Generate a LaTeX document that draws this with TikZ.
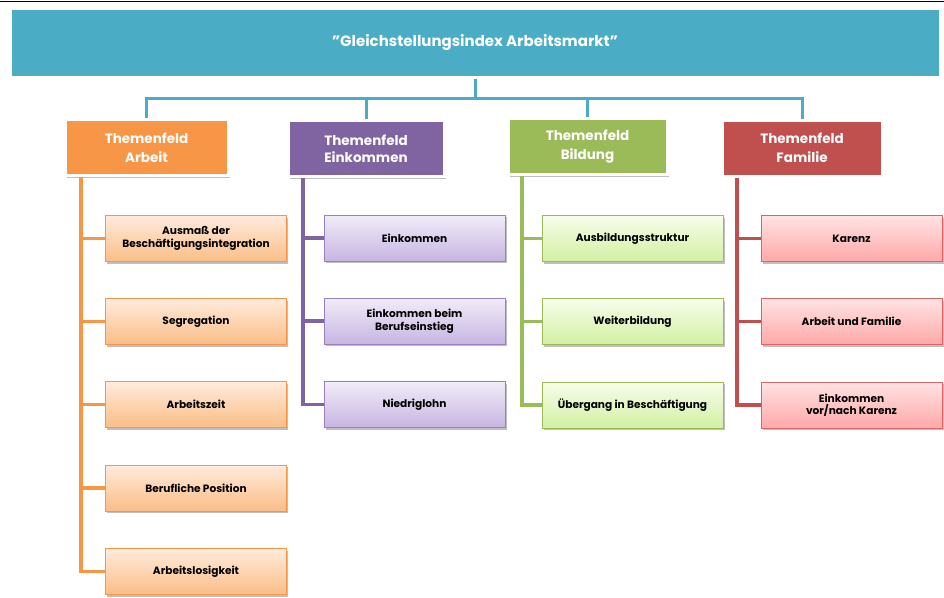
\documentclass[tikz,border=0pt]{standalone}
\usepackage{fontspec}
\setmainfont{Poppins}
\usetikzlibrary{shadows}
\definecolor{cteal}{HTML}{4BACC6}
\definecolor{corange}{HTML}{F79646}
\definecolor{cpurple}{HTML}{8064A2}
\definecolor{cgreen}{HTML}{9BBB59}
\definecolor{cred}{HTML}{C0504D}
\definecolor{oTop}{HTML}{FFEBDD}
\definecolor{oBot}{HTML}{FBBD86}
\definecolor{pTop}{HTML}{F1ECF8}
\definecolor{pBot}{HTML}{C7B5E2}
\definecolor{gTop}{HTML}{F7FDEB}
\definecolor{gBot}{HTML}{D2F0A2}
\definecolor{rTop}{HTML}{FFE3E3}
\definecolor{rBot}{HTML}{FFA8A8}
\definecolor{rEdge}{HTML}{D96666}
\definecolor{pEdge}{HTML}{9B7FC0}
\tikzset{
  shad/.style={drop shadow={shadow xshift=1.5pt,shadow yshift=-2pt,fill=black,opacity=0.25}},
  header/.style={fill=#1,draw=white,line width=3pt,shad,text=white,font=\bfseries\fontsize{13.5}{17}\selectfont,align=center,minimum width=163pt,minimum height=56pt,inner sep=0pt},
  subbox/.style n args={3}{draw=#1,line width=0.8pt,top color=#2,bottom color=#3,shad,font=\bfseries\fontsize{10.6}{12.5}\selectfont,align=center,minimum width=181pt,minimum height=46pt,inner sep=0pt,text=black},
  sorange/.style={subbox={corange}{oTop}{oBot}},
  spurple/.style={subbox={pEdge}{pTop}{pBot}},
  sgreen/.style={subbox={cgreen}{gTop}{gBot}},
  sred/.style={subbox={rEdge}{rTop}{rBot}},
  conn/.style={draw=#1,line width=3.5pt},
}
\begin{document}
\begin{tikzpicture}[x=1pt,y=-1pt]
\useasboundingbox (0,0) rectangle (944,597);
\fill[white] (0,0) rectangle (944,597);
\draw[black,line width=1.5pt] (0,1.5) -- (944,1.5);
% top box
\node[fill=cteal,draw=white,line width=3pt,shad,text=white,font=\bfseries\fontsize{15}{18}\selectfont,minimum width=930pt,minimum height=69pt,inner sep=0pt] (top) at (475,42.5) {\char"0022 Gleichstellungsindex Arbeitsmarkt\char"0022};
% headers
\node[header=corange] (h1) at (146.5,147.5) {Themenfeld\\[2pt]Arbeit};
\node[header=cpurple,minimum width=156pt] (h2) at (366,148.5) {Themenfeld\\Einkommen};
\node[header=cgreen,minimum width=159pt] (h3) at (587.5,146.5) {Themenfeld\\[2pt]Bildung};
\node[header=cred,minimum width=160pt] (h4) at (802,148) {Themenfeld\\[2pt]Familie};
% top connectors
\coordinate (hy) at (0,98);
\draw[conn=cteal,line width=3pt] (top.south) -- (top.south |- hy) -| (h1.north);
\draw[conn=cteal,line width=3pt] (top.south |- hy) -| (h2.north);
\draw[conn=cteal,line width=3pt] (top.south |- hy) -| (h3.north);
\draw[conn=cteal,line width=3pt] (top.south |- hy) -| (h4.north);
% Arbeit
\node[sorange] (a1) at (196,238.5) {Ausmaß der\\Beschäftigungsintegration};
\node[sorange] (a2) at (196,321.5) {Segregation};
\node[sorange] (a3) at (196,404.5) {Arbeitszeit};
\node[sorange] (a4) at (196,488) {Berufliche Position};
\node[sorange] (a5) at (196,571.5) {Arbeitslosigkeit};
\coordinate (v1) at (81,0);
\foreach \n in {a1,a2,a3,a4,a5}{\draw[conn=corange] (h1.south -| v1) |- (\n.west);}
% Einkommen
\node[spurple] (b1) at (414.5,238) {Einkommen};
\node[spurple] (b2) at (414.5,321) {Einkommen beim\\Berufseinstieg};
\node[spurple] (b3) at (414.5,404.5) {Niedriglohn};
\coordinate (v2) at (303,0);
\foreach \n in {b1,b2,b3}{\draw[conn=cpurple] (h2.south -| v2) |- (\n.west);}
% Bildung
\node[sgreen] (c1) at (632.5,238.5) {Ausbildungsstruktur};
\node[sgreen] (c2) at (632.5,321.5) {Weiterbildung};
\node[sgreen] (c3) at (632.5,405) {Übergang in Beschäftigung};
\coordinate (v3) at (522,0);
\foreach \n in {c1,c2,c3}{\draw[conn=cgreen] (h3.south -| v3) |- (\n.west);}
% Familie
\node[sred] (d1) at (851.5,238.5) {Karenz};
\node[sred] (d2) at (851.5,321.5) {Arbeit und Familie};
\node[sred] (d3) at (851.5,405) {Einkommen\\vor/nach Karenz};
\coordinate (v4) at (737,0);
\foreach \n in {d1,d2,d3}{\draw[conn=cred] (h4.south -| v4) |- (\n.west);}
\end{tikzpicture}
\end{document}
